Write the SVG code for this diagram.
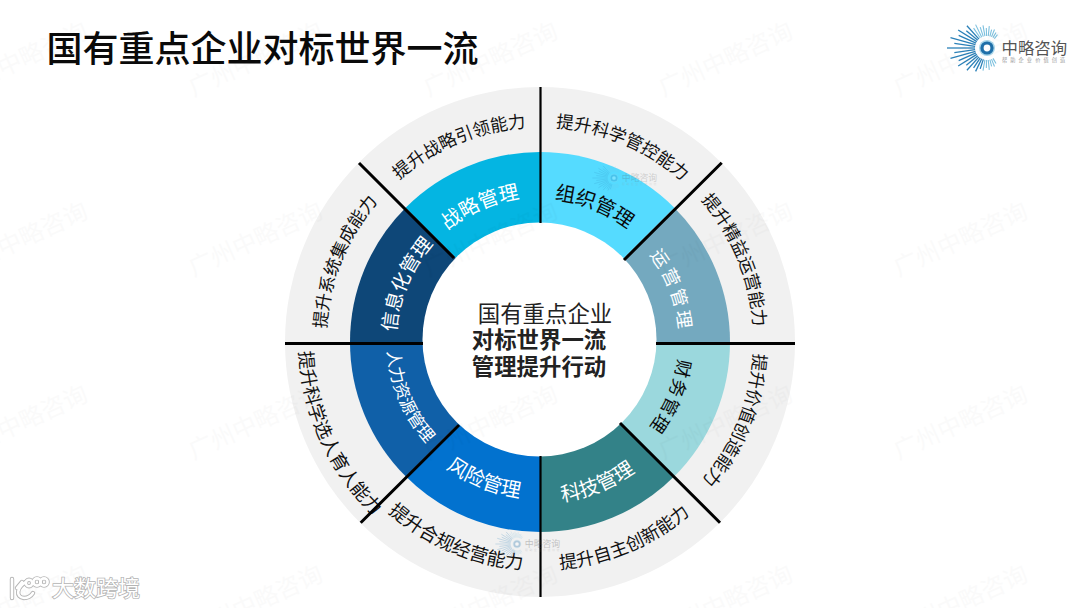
<svg xmlns="http://www.w3.org/2000/svg" width="1080" height="608" viewBox="0 0 1080 608">
<style>
text{font-family:"Noto Sans CJK SC","Noto Sans",sans-serif}
.o{font-size:17.5px;fill:#111}
.b{font-size:18px;fill:#111}
.m{font-size:20px}
.s{font-size:18px}
.w{fill:#fff}
.k{fill:#0a0a0a}
.wm{font-size:24px;fill:#000;opacity:.014;text-anchor:middle}
.ln{stroke:#000;stroke-width:3;fill:none}
.ray{stroke:#2a80b8;stroke-width:1.3}
.ray2{stroke:#7cc0de;stroke-width:1.1}
.ic{fill:none;stroke:#fff;stroke-width:2.6;stroke-linecap:round}
.ics{fill:none;stroke:#b4b4b4;stroke-width:4.4;stroke-linecap:round}
</style>
<defs>
<path id="c214" d="M354.7 234A214 214 0 0 1 725.3 234"/>
<path id="c144" d="M415.3 269A144 144 0 0 1 664.7 269"/>
<path id="c142" d="M417 270A142 142 0 0 1 663 270"/>
<path id="c139" d="M419.6 271.5A139 139 0 0 1 660.4 271.5"/>
<path id="b229" d="M341.7 455.5A229 229 0 0 0 738.3 455.5"/>
<path id="b241" d="M331.3 461.5A241 241 0 0 0 748.7 461.5"/>
<path id="b162" d="M399.7 422A162 162 0 0 0 680.3 422"/>
<path id="b158" d="M403.2 420A158 158 0 0 0 676.8 420"/>
<path id="b153" d="M407.5 417.5A153 153 0 0 0 672.5 417.5"/>
<g id="logo">
<g class="ray">
<line x1="-12" x2="-40" transform="rotate(0)"/><line x1="-12" x2="-33" transform="rotate(8)"/><line x1="-12" x2="-38" transform="rotate(16)"/><line x1="-12" x2="-31" transform="rotate(24)"/><line x1="-12" x2="-34" transform="rotate(32)"/><line x1="-12" x2="-27" transform="rotate(40)"/><line x1="-12" x2="-30" transform="rotate(48)"/>
<line x1="-12" x2="-33" transform="rotate(-8)"/><line x1="-12" x2="-38" transform="rotate(-16)"/><line x1="-12" x2="-31" transform="rotate(-24)"/><line x1="-12" x2="-34" transform="rotate(-32)"/><line x1="-12" x2="-27" transform="rotate(-40)"/><line x1="-12" x2="-30" transform="rotate(-48)"/>
<line x1="-12" x2="-24" transform="rotate(-56)"/><line x1="-12" x2="-26" transform="rotate(-64)"/><line x1="-12" x2="-22" transform="rotate(-72)"/>
</g>
<g class="ray2">
<line x1="-12" x2="-24" transform="rotate(56)"/><line x1="-12" x2="-26" transform="rotate(64)"/><line x1="-12" x2="-22" transform="rotate(72)"/><line x1="-12" x2="-23" transform="rotate(80)"/><line x1="-12" x2="-20" transform="rotate(88)"/><line x1="-12" x2="-22" transform="rotate(96)"/><line x1="-12" x2="-19" transform="rotate(104)"/><line x1="-12" x2="-20" transform="rotate(112)"/><line x1="-12" x2="-18" transform="rotate(120)"/><line x1="-12" x2="-17" transform="rotate(128)"/>
<line x1="-12" x2="-23" transform="rotate(-80)"/><line x1="-12" x2="-20" transform="rotate(-88)"/><line x1="-12" x2="-22" transform="rotate(-96)"/><line x1="-12" x2="-19" transform="rotate(-104)"/><line x1="-12" x2="-20" transform="rotate(-112)"/><line x1="-12" x2="-18" transform="rotate(-120)"/>
</g>
<circle r="8" fill="#a8d6ea"/>
<circle r="6.6" fill="#1f70aa"/>
<circle r="3.4" fill="#fff"/>
<text x="14.5" y="5.5" font-size="16.4" fill="#555">中略咨询</text>
<text x="15" y="13.5" font-size="5.2" letter-spacing="3.1" fill="#999">帮助企业价值创造</text>
</g>
</defs>
<rect width="1080" height="608" fill="#fff"/>
<text x="46.5" y="62" font-size="36" font-weight="500" fill="#0a0a0a">国有重点企业对标世界一流</text>
<circle id="outer-ring" cx="540" cy="342" r="255" fill="#f1f1f1"/>
<g id="zhanlue">
<path d="M540 342L405.65 207.65A190 190 0 0 1 540 152Z" fill="#04b5e2"/>
<text class="m w" text-anchor="middle" transform="rotate(-24 540 341)"><textPath href="#c144" startOffset="50%">战略管理</textPath></text>
<text class="o" text-anchor="middle" transform="rotate(-22.5 540 341)"><textPath href="#c214" startOffset="50%">提升战略引领能力</textPath></text>
</g>
<g id="zuzhi">
<path d="M540 342L540 152A190 190 0 0 1 674.35 207.65Z" fill="#55dbff"/>
<text class="m k" text-anchor="middle" transform="rotate(22 540 341)"><textPath href="#c142" startOffset="50%">组织管理</textPath></text>
<text class="o" text-anchor="middle" transform="rotate(23 540 341)"><textPath href="#c214" startOffset="50%">提升科学管控能力</textPath></text>
</g>
<g id="yunying">
<path d="M540 342L674.35 207.65A190 190 0 0 1 730 342Z" fill="#74a9bf"/>
<text class="s w" text-anchor="middle" letter-spacing="3" transform="rotate(69 540 341)"><textPath href="#c139" startOffset="50%">运营管理</textPath></text>
<text class="o" text-anchor="middle" transform="rotate(67.5 540 341)"><textPath href="#c214" startOffset="50%">提升精益运营能力</textPath></text>
</g>
<g id="caiwu">
<path d="M540 342L730 342A190 190 0 0 1 674.35 476.35Z" fill="#9bd8dd"/>
<text class="s k" text-anchor="middle" letter-spacing="1" transform="rotate(113 540 341)"><textPath href="#c139" startOffset="50%">财务管理</textPath></text>
<text class="o" text-anchor="middle" transform="rotate(112 540 341)"><textPath href="#c214" startOffset="50%">提升价值创造能力</textPath></text>
</g>
<g id="keji">
<path d="M540 342L674.35 476.35A190 190 0 0 1 540 532Z" fill="#338288"/>
<text class="m w" text-anchor="middle" transform="rotate(-22 540 341)"><textPath href="#b162" startOffset="50%">科技管理</textPath></text>
<text class="b" text-anchor="middle" transform="rotate(-23 540 341)"><textPath href="#b229" startOffset="50%">提升自主创新能力</textPath></text>
</g>
<g id="fengxian">
<path d="M540 342L540 532A190 190 0 0 1 405.65 476.35Z" fill="#0272cf"/>
<text class="m w" text-anchor="middle" transform="rotate(22 540 341)"><textPath href="#b158" startOffset="50%">风险管理</textPath></text>
<text class="b" style="font-size:18.6px" text-anchor="middle" transform="rotate(23 540 341)"><textPath href="#b229" startOffset="50%">提升合规经营能力</textPath></text>
</g>
<g id="renli">
<path d="M540 342L405.65 476.35A190 190 0 0 1 350 342Z" fill="#1060a8"/>
<text class="o" style="fill:#fff;font-size:17px" text-anchor="middle" transform="rotate(67 540 341)"><textPath href="#b153" startOffset="50%">人力资源管理</textPath></text>
<text class="b" style="font-size:18.5px" text-anchor="middle" transform="rotate(65.5 540 341)"><textPath href="#b241" startOffset="50%">提升科学选人育人能力</textPath></text>
</g>
<g id="xinxihua">
<path d="M540 342L350 342A190 190 0 0 1 405.65 207.65Z" fill="#0e4778"/>
<text class="m w" style="font-size:19.5px" text-anchor="middle" transform="rotate(-67 540 341)"><textPath href="#c144" startOffset="50%">信息化管理</textPath></text>
<text class="o" text-anchor="middle" transform="rotate(-68 540 341)"><textPath href="#c214" startOffset="50%">提升系统集成能力</textPath></text>
</g>
<g id="center">
<circle cx="539.5" cy="339.5" r="117" fill="#fff"/>
<text x="545" y="322" font-size="22.4" text-anchor="middle" fill="#222">国有重点企业</text>
<text x="539" y="348" font-size="22.4" font-weight="700" text-anchor="middle" fill="#222">对标世界一流</text>
<text x="539" y="375" font-size="22.4" font-weight="700" text-anchor="middle" fill="#222">管理提升行动</text>
</g>
<g id="connectors">
<path class="ln" style="stroke-width:2.2" d="M540.5 87V223M540.5 456V597"/>
<path class="ln" d="M285 343.5H423M656 343.5H795"/>
<path class="ln" d="M359 163L454 258M721.7 162.7L624 260M360.7 522.7L459 425M720 522.7L620 423"/>
</g>
<g id="logo-main"><use href="#logo" transform="translate(987 48)"/></g>
<use href="#logo" transform="translate(614 178) scale(.54)" opacity=".22"/>
<use href="#logo" transform="translate(517 544) scale(.54)" opacity=".3"/>
<g id="watermarks">
<text class="wm" transform="translate(24 67) rotate(-24.5)">广州中略咨询</text>
<text class="wm" transform="translate(259 67) rotate(-24.5)">广州中略咨询</text>
<text class="wm" transform="translate(494 67) rotate(-24.5)">广州中略咨询</text>
<text class="wm" transform="translate(729 67) rotate(-24.5)">广州中略咨询</text>
<text class="wm" transform="translate(964 67) rotate(-24.5)">广州中略咨询</text>
<text class="wm" transform="translate(24 247) rotate(-24.5)">广州中略咨询</text>
<text class="wm" transform="translate(259 247) rotate(-24.5)">广州中略咨询</text>
<text class="wm" transform="translate(494 247) rotate(-24.5)">广州中略咨询</text>
<text class="wm" transform="translate(729 247) rotate(-24.5)">广州中略咨询</text>
<text class="wm" transform="translate(964 247) rotate(-24.5)">广州中略咨询</text>
<text class="wm" transform="translate(24 430) rotate(-24.5)">广州中略咨询</text>
<text class="wm" transform="translate(259 430) rotate(-24.5)">广州中略咨询</text>
<text class="wm" transform="translate(494 430) rotate(-24.5)">广州中略咨询</text>
<text class="wm" transform="translate(729 430) rotate(-24.5)">广州中略咨询</text>
<text class="wm" transform="translate(964 430) rotate(-24.5)">广州中略咨询</text>
<text class="wm" transform="translate(24 610) rotate(-24.5)">广州中略咨询</text>
<text class="wm" transform="translate(259 610) rotate(-24.5)">广州中略咨询</text>
<text class="wm" transform="translate(494 610) rotate(-24.5)">广州中略咨询</text>
<text class="wm" transform="translate(729 610) rotate(-24.5)">广州中略咨询</text>
<text class="wm" transform="translate(964 610) rotate(-24.5)">广州中略咨询</text>
</g>
<g id="source-mark">
<path class="ics" d="M12 579V598M26 582C17 587 15 597 24 598C28 598 31 596 33 593M17 588L22 582"/>
<circle class="ics" cx="29" cy="583" r="3.2"/><circle class="ics" cx="37" cy="582" r="3.6"/><circle class="ics" cx="44" cy="582" r="3.6"/>
<path class="ic" d="M12 579V598M26 582C17 587 15 597 24 598C28 598 31 596 33 593M17 588L22 582"/>
<circle class="ic" cx="29" cy="583" r="3.2"/><circle class="ic" cx="37" cy="582" r="3.6"/><circle class="ic" cx="44" cy="582" r="3.6"/>
<text x="52" y="596" font-size="22" fill="#fff" stroke="#b4b4b4" stroke-width="1.6" paint-order="stroke">大数跨境</text>
</g>
</svg>
